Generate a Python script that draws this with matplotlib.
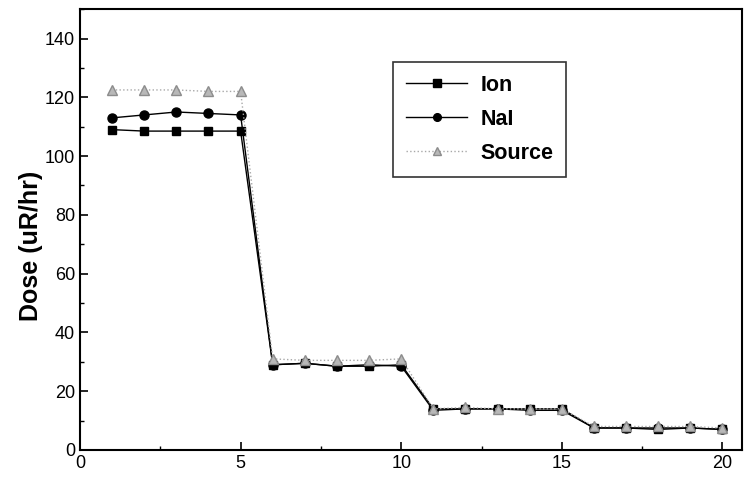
import numpy as np
import matplotlib.pyplot as plt
from matplotlib.ticker import MultipleLocator

x = np.arange(1, 21)
ion = [109, 108.5, 108.5, 108.5, 108.5,
       29, 29.5, 28.5, 28.5, 29,
       14, 14, 14, 14, 14,
       7.5, 7.5, 7, 7.5, 7]
nai = [113, 114, 115, 114.5, 114,
       29, 29.5, 28.5, 29, 28.5,
       13.5, 14, 14, 13.5, 13.5,
       7.5, 7.5, 7.5, 7.5, 7]
source = [122.5, 122.5, 122.5, 122, 122,
          31, 30.5, 30.5, 30.5, 31,
          14, 14.5, 14, 14, 14,
          8, 8, 8, 8, 7.5]

plt.rcParams['font.family'] = ['Liberation Sans', 'DejaVu Sans']

fig = plt.figure(figsize=(7.44, 4.8), dpi=100)
ax = fig.add_axes([0.1075, 0.0625, 0.8895, 0.9185])

ax.plot(x, ion, color='black', lw=1.0, marker='s', ms=6, label='Ion')
ax.plot(x, nai, color='black', lw=1.0, marker='o', ms=6.5, label='NaI')
ax.plot(x, source, color='#a8a8a8', lw=1.0, ls=':', marker='^', ms=7,
        markerfacecolor='#b8b8b8', markeredgecolor='#8c8c8c', label='Source')

ax.set_xlim(0, 20.6)
ax.set_ylim(0, 150)
ax.xaxis.set_major_locator(MultipleLocator(5))
ax.xaxis.set_minor_locator(MultipleLocator(2.5))
ax.yaxis.set_minor_locator(MultipleLocator(10))
ax.set_yticks(np.arange(0, 141, 20))
ax.tick_params(which='major', direction='in', length=6, width=1.2, labelsize=13)
ax.tick_params(which='minor', direction='in', length=3, width=1)
for s in ax.spines.values():
    s.set_linewidth(1.5)

ax.set_ylabel('Dose (uR/hr)', fontsize=18, fontweight='bold')
ax.yaxis.set_label_coords(-0.056, 0.463)

leg = ax.legend(loc='upper left', bbox_to_anchor=(0.473, 0.880), borderaxespad=0,
                frameon=True, fancybox=False, edgecolor='black',
                prop={'weight': 'bold', 'size': 15.5}, handlelength=2.85,
                handletextpad=0.6, borderpad=0.6, labelspacing=0.6,
                markerscale=0.85)
leg.get_frame().set_linewidth(1.2)

plt.savefig('out.png', dpi=100)
